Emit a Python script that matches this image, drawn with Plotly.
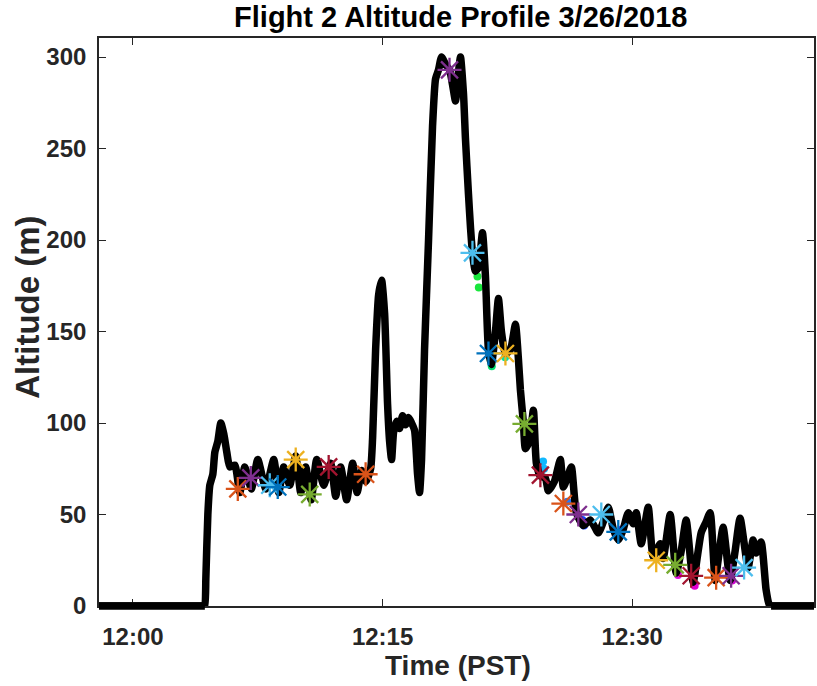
import plotly.graph_objects as go

# Flight 2 altitude trace: minutes after 12:00 PST and altitude in metres
t_min = [-2.2, 4.00, 4.26, 4.32, 4.38, 4.50, 4.62, 4.80, 4.92, 5.10, 5.28, 5.46, 5.64, 5.82,
         6.12, 6.42, 6.72, 7.11, 7.50, 7.98, 8.46, 8.76, 9.06, 9.42, 9.78, 10.08,
         10.38, 10.71, 11.04, 11.46, 11.88, 12.18, 12.48, 12.84, 13.20, 13.47, 13.74,
         14.00, 14.28, 14.40, 14.58,
         14.76, 14.94, 15.12, 15.30, 15.42, 15.54, 15.66, 15.84, 16.02, 16.20, 16.38,
         16.56, 16.74, 16.92, 17.10, 17.22, 17.34, 17.52, 17.76, 18.00, 18.18, 18.36,
         18.54, 18.78, 19.02, 19.20, 19.38, 19.56, 19.68, 19.86, 19.98, 20.16, 20.28,
         20.40, 20.58, 20.76, 21.00, 21.18, 21.36, 21.54, 21.78, 21.96, 22.14, 22.38,
         22.68, 22.98, 23.16, 23.28, 23.46, 23.58, 23.82, 24.06, 24.24, 24.48, 24.78,
         24.96, 25.32, 25.68, 25.86, 26.10, 26.34, 26.64, 27.06, 27.48, 27.96, 28.26,
         28.56, 28.86, 29.16, 29.46, 29.76, 30.06, 30.24, 30.54, 30.96, 31.26, 31.68,
         31.86, 32.28, 32.64, 32.94, 33.24, 33.66, 33.96, 34.14, 34.44, 34.68, 34.98,
         35.16, 35.46, 35.88, 36.18, 36.48, 36.96, 37.26, 37.44, 37.74, 38.04, 38.22,
         38.34, 38.42, 38.70, 41.5]
alt_m = [0, 0, 0, 0, 15, 50, 66, 72, 84, 90, 100, 94, 84, 76,
         77, 62, 76, 64, 80, 64, 80, 62, 76, 66, 82, 62,
         76, 58, 80, 66, 78, 60, 76, 58, 78, 62, 74,
         68, 75, 92, 140,
         170, 178, 160, 110, 90, 80, 95, 101, 97, 104, 99,
         103, 100, 96, 72, 62, 80, 140, 200, 262, 288, 293,
         300, 296, 293, 285, 276, 292, 300, 280, 255, 225, 207,
         193, 183, 185, 204, 180, 140, 132, 150, 168, 150, 138,
         140, 154, 135, 118, 100, 86, 90, 107, 78, 71, 70,
         63, 68, 80, 65, 70, 76, 51, 44, 47, 40, 46,
         54, 42, 36, 42, 51, 45, 51, 34, 54, 27, 34,
         26, 50, 18, 30, 47, 13, 30, 40, 46, 51, 14,
         25, 43, 14, 30, 48, 21, 36, 29, 35, 9, 1,
         0, 0, 0, 0]

# Sample points flagged along the flight
sample_t = [6.30, 7.08, 8.22, 8.70, 9.78, 10.62, 11.76, 13.98, 19.02, 20.40, 21.36,
            22.38, 23.52, 24.48, 25.86, 26.76, 28.14, 29.16, 31.44, 32.58, 33.54,
            35.04, 35.94, 36.72]
sample_alt = [64, 70, 66, 65, 80, 61, 76, 72, 293, 193, 138,
              138, 99.5, 71.5, 56, 50, 50, 40.5, 25, 22.5, 16.5,
              15.5, 16.5, 21]

# Coloured track segments showing beside the altitude line
track_t = [20.62, 20.70, 20.78, 21.50, 21.56, 22.36, 23.56, 24.64, 24.70, 26.10,
           27.00, 27.10, 29.40, 32.75, 33.75, 36.00]
track_alt = [186, 180, 174, 134, 131, 136, 96, 79, 75, 57,
             47, 44, 42, 17, 11, 14]
track_colors = ["#19e63c", "#19e63c", "#19e63c", "#00e070", "#00e070", "#00e0a8",
                "#00d0c8", "#10b8ff", "#10b8ff", "#1f78ff", "#1040ff", "#1040ff",
                "#5020ff", "#e010e0", "#e000d0", "#d000d0"]

tick_vals = [0, 15, 30]
tick_text = ["12:00", "12:15", "12:30"]
alt_ticks = [0, 50, 100, 150, 200, 250, 300]

palette = ["#0072BD", "#D95319", "#EDB120", "#7E2F8E", "#77AC30", "#4DBEEE", "#A2142F"]
sample_colors = [palette[(1 + 2 * i) % 7] for i in range(len(sample_t))]

FONT = "Liberation Sans, Arial, sans-serif"
AXIS_GREY = "#262626"
LINE_W = 7.5

fig = go.Figure()

fig.add_trace(go.Scatter(
    x=track_t, y=track_alt, mode="markers",
    marker=dict(symbol="circle", size=8, color=track_colors, line=dict(width=0)),
    hoverinfo="skip", showlegend=False))

fig.add_trace(go.Scatter(
    x=t_min, y=alt_m, mode="lines",
    line=dict(color="black", width=LINE_W, shape="spline", smoothing=0.55),
    showlegend=False))

fig.add_trace(go.Scatter(
    x=sample_t, y=sample_alt, mode="markers",
    marker=dict(symbol="asterisk-open", size=20, color=sample_colors,
                line=dict(width=2.3, color=sample_colors)),
    cliponaxis=False, showlegend=False))

# Ground-level stretches sit on the bottom axis; draw them unclipped vertically
shapes = []
i = 0
while i < len(alt_m):
    if alt_m[i] == 0:
        j = i
        while j + 1 < len(alt_m) and alt_m[j + 1] == 0:
            j += 1
        if j > i:
            shapes.append(dict(type="line", xref="x", yref="paper",
                               x0=t_min[i], x1=t_min[j], y0=0, y1=0,
                               line=dict(color="black", width=LINE_W), layer="above"))
        i = j + 1
    else:
        i += 1

axis_common = dict(
    showline=True, linecolor=AXIS_GREY, linewidth=1.6, mirror="ticks",
    ticks="inside", ticklen=7, tickwidth=1.4, tickcolor=AXIS_GREY,
    showgrid=False, zeroline=False,
    tickfont=dict(family=FONT, size=24, color=AXIS_GREY, weight="bold"),
)

fig.update_xaxes(range=[-2.04, 40.92], tickvals=tick_vals, ticktext=tick_text,
                 ticklabelstandoff=8, **axis_common)
fig.update_yaxes(range=[0, 310.4], tickvals=alt_ticks, ticklabelstandoff=6,
                 **axis_common)

fig.update_layout(
    width=817, height=686, autosize=False,
    margin=dict(l=99, r=1, t=38, b=80),
    paper_bgcolor="white", plot_bgcolor="white",
    shapes=shapes,
    title=dict(text="Flight 2 Altitude Profile 3/26/2018", x=0.564, xref="container",
               y=0.975, yref="container", xanchor="center", yanchor="middle",
               font=dict(family=FONT, size=29, color="black", weight="bold")),
    annotations=[
        dict(text="Time (PST)", xref="paper", yref="paper", x=0.502, y=-0.104,
             xanchor="center", yanchor="middle", showarrow=False,
             font=dict(family=FONT, size=28, color=AXIS_GREY, weight="bold")),
        dict(text="Altitude (m)", xref="paper", yref="paper", x=-0.100, y=0.526,
             xanchor="center", yanchor="middle", textangle=-90, showarrow=False,
             font=dict(family=FONT, size=33, color=AXIS_GREY, weight="bold")),
    ],
)

fig.write_html("out.html")
